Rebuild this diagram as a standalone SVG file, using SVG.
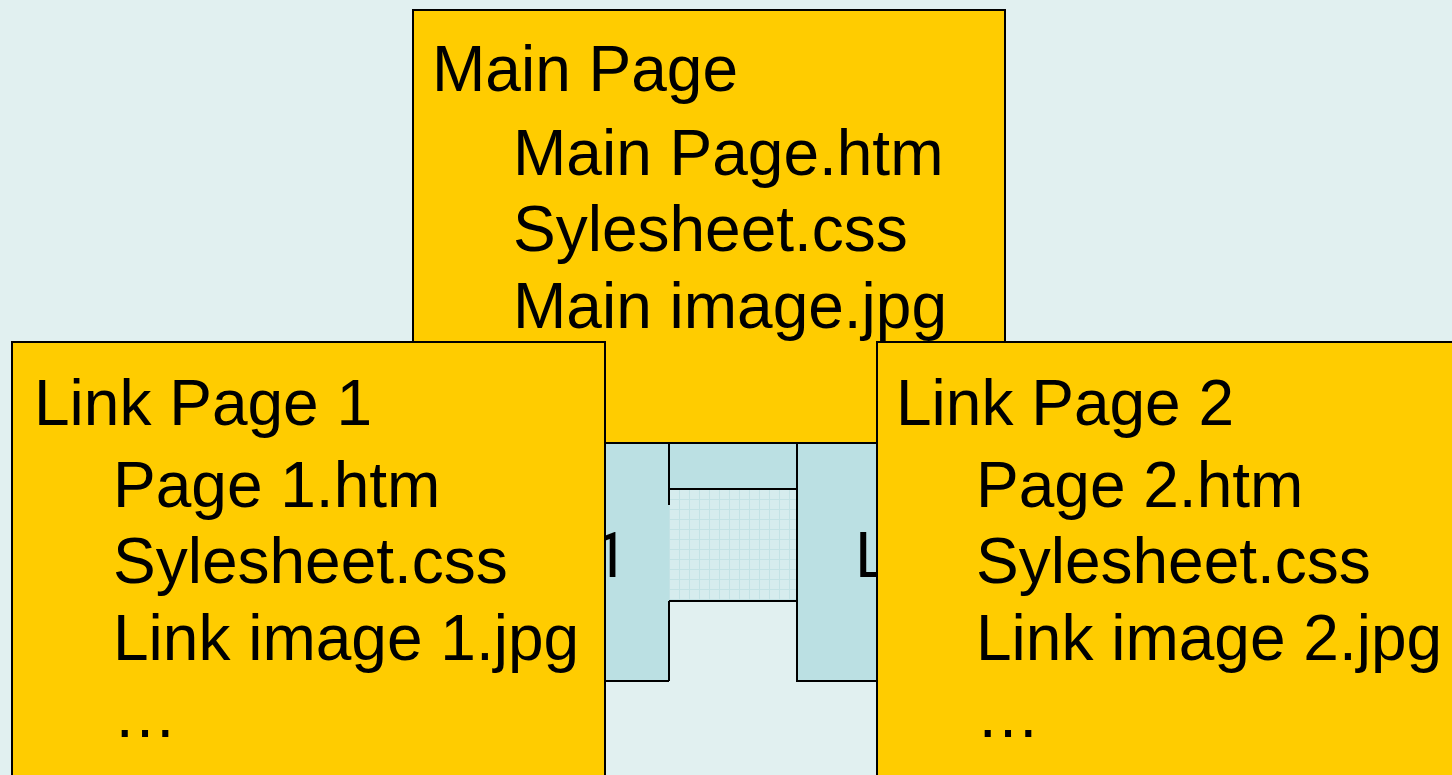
<svg xmlns="http://www.w3.org/2000/svg" width="1452" height="775" viewBox="0 0 1452 775">
<defs>
<pattern id="grid" x="669" y="489" width="10" height="10" patternUnits="userSpaceOnUse">
<rect width="10" height="10" fill="#D6ECEE"/>
<path d="M0 0.5H10M0.5 0V10" stroke="#C3E2E5" stroke-width="1" fill="none"/>
</pattern>
</defs>
<style>
.box{fill:#FFCC00;stroke:#000;stroke-width:2}
.panel{fill:#BBE0E3;stroke:none}
.edge{stroke:#000;stroke-width:2;fill:none}
.t{font-family:"Liberation Sans",Arial,sans-serif;font-size:64px;fill:#000}
.frag{font-family:Roboto,"Liberation Sans",sans-serif;font-size:63px;fill:#000}
</style>
<rect width="1452" height="775" fill="#E1F0F0"/>
<g id="back-panels">
<rect class="panel" x="590" y="443" width="79" height="238"/>
<rect class="panel" x="797" y="443" width="90" height="238"/>
<rect class="panel" x="669" y="443" width="128" height="46"/>
<rect x="669" y="489" width="128" height="112" fill="url(#grid)"/>
<path class="edge" d="M669 443V505M669 601V681M590 681H669M797 443V681H887M669 489H797M669 601H797"/>
<text class="frag" x="593" y="577">1</text>
<text class="t" x="855" y="577">L</text>
</g>
<g id="main-page">
<rect class="box" x="413" y="10" width="592" height="433"/>
<text class="t" x="432" y="91">Main Page</text>
<text class="t" x="513" y="175">Main Page.htm</text>
<text class="t" x="513" y="251">Sylesheet.css</text>
<text class="t" x="513" y="328">Main image.jpg</text>
</g>
<g id="link-page-1">
<rect class="box" x="12" y="342" width="593" height="450"/>
<text class="t" x="34" y="425">Link Page 1</text>
<text class="t" x="113" y="507">Page 1.htm</text>
<text class="t" x="113" y="583">Sylesheet.css</text>
<text class="t" x="113" y="660">Link image 1.jpg</text>
<text class="t" x="113" y="737">…</text>
</g>
<g id="link-page-2">
<rect class="box" x="877" y="342" width="590" height="450"/>
<text class="t" x="896" y="425">Link Page 2</text>
<text class="t" x="976" y="507">Page 2.htm</text>
<text class="t" x="976" y="583">Sylesheet.css</text>
<text class="t" x="976" y="660">Link image 2.jpg</text>
<text class="t" x="976" y="737">…</text>
</g>
<g id="connectors"></g>
</svg>
